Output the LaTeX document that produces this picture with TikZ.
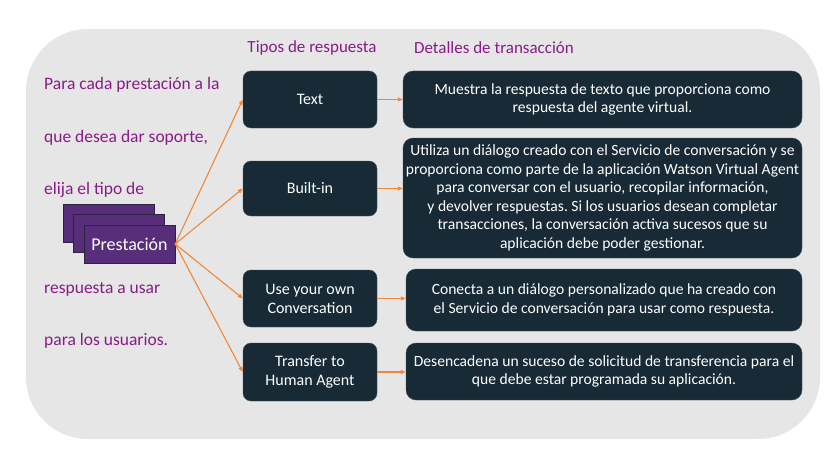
\documentclass[tikz,border=0pt]{standalone}
\usepackage{fontspec}
\setmainfont{Carlito}
\frenchspacing
\usetikzlibrary{arrows.meta}
\definecolor{panel}{HTML}{E6E6E6}
\definecolor{navy}{HTML}{172A36}
\definecolor{navyedge}{HTML}{3C4F5C}
\definecolor{plum}{HTML}{8B1A89}
\definecolor{grape}{HTML}{582D79}
\definecolor{grapeedge}{HTML}{2B2440}
\definecolor{tang}{HTML}{F0883A}
\begin{document}
\begin{tikzpicture}[x=1pt,y=-1pt,
  typebox/.style={draw=navyedge,fill=navy,rounded corners=8pt,text=white,align=center,
    minimum width=134pt,font=\fontsize{16}{19}\selectfont},
  infobox/.style={draw=navyedge,fill=navy,rounded corners=10pt,text=white,align=center,
    inner sep=1pt,font=\fontsize{15.6}{18.6}\selectfont},
  sheet/.style={draw=grapeedge,fill=grape,minimum width=91pt,minimum height=38pt,
    text=white,font=\fontsize{18}{20}\selectfont},
  note/.style={text=plum,anchor=west,inner sep=0pt,font=\fontsize{17.5}{20}\selectfont},
  head/.style={text=plum,font=\fontsize{17}{20}\selectfont},
  link/.style={draw=tang,line width=1.1pt,-{Triangle[length=5pt,width=4pt]}}]
\useasboundingbox (0,0) rectangle (834,468);
\fill[panel,rounded corners=62pt] (26,29) rectangle (820,439);

\node[head] (hTypes) at (312,48) {Tipos de respuesta};
\node[head] (hInfo) at (494,48) {Detalles de transacción};

\node[note] (n1) at (44,85) {Para cada prestación a la};
\node[note] (n2) at (44,138) {que desea dar soporte,};
\node[note] (n3) at (44,190) {elija el tipo de};
\node[note] (n4) at (44,289) {respuesta a usar};
\node[note] (n5) at (44,341) {para los usuarios.};

\node[sheet] (pres1) at (108.5,223) {};
\node[sheet] (pres2) at (119,233.5) {};
\node[sheet] (pres) at (129.5,244) {Prestación};

\node[typebox,minimum height=57pt] (tText) at (310,99.5) {Text};
\node[typebox,minimum height=55pt] (tBuilt) at (310,188.5) {Built-in};
\node[typebox,minimum height=57pt] (tOwn) at (310,298.5) {Use your own\\Conversation};
\node[typebox,minimum height=58pt] (tHuman) at (310,372) {Transfer to\\Human Agent};

\node[infobox,minimum width=399pt,minimum height=57pt] (iText) at (602.5,99.5)
  {Muestra la respuesta de texto que proporciona como\\respuesta del agente virtual.};
\node[infobox,minimum width=399pt,minimum height=120pt] (iBuilt) at (602.5,198)
  {Utiliza un diálogo creado con el Servicio de conversación y se\\
   proporciona como parte de la aplicación Watson Virtual Agent\\
   para conversar con el usuario, recopilar información,\\
   y devolver respuestas. Si los usuarios desean completar\\
   transacciones, la conversación activa sucesos que su\\
   aplicación debe poder gestionar.};
\node[infobox,minimum width=396pt,minimum height=62pt] (iOwn) at (604,300)
  {Conecta a un diálogo personalizado que ha creado con\\el Servicio de conversación para usar como respuesta.};
\node[infobox,minimum width=396pt,minimum height=57pt] (iHuman) at (604,371.5)
  {Desencadena un suceso de solicitud de transferencia para el\\que debe estar programada su aplicación.};

\draw[link] (pres.east) -- (tText.west);
\draw[link] (pres.east) -- (tBuilt.west);
\draw[link] (pres.east) -- (tOwn.west);
\draw[link] (pres.east) -- (tHuman.west);

\draw[link] (tText.east) -- (tText.east -| iText.west);
\draw[link] (tBuilt.east) -- (tBuilt.east -| iBuilt.west);
\draw[link] (tOwn.east) -- (tOwn.east -| iOwn.west);
\draw[link] (tHuman.east) -- (tHuman.east -| iHuman.west);
\end{tikzpicture}
\end{document}
